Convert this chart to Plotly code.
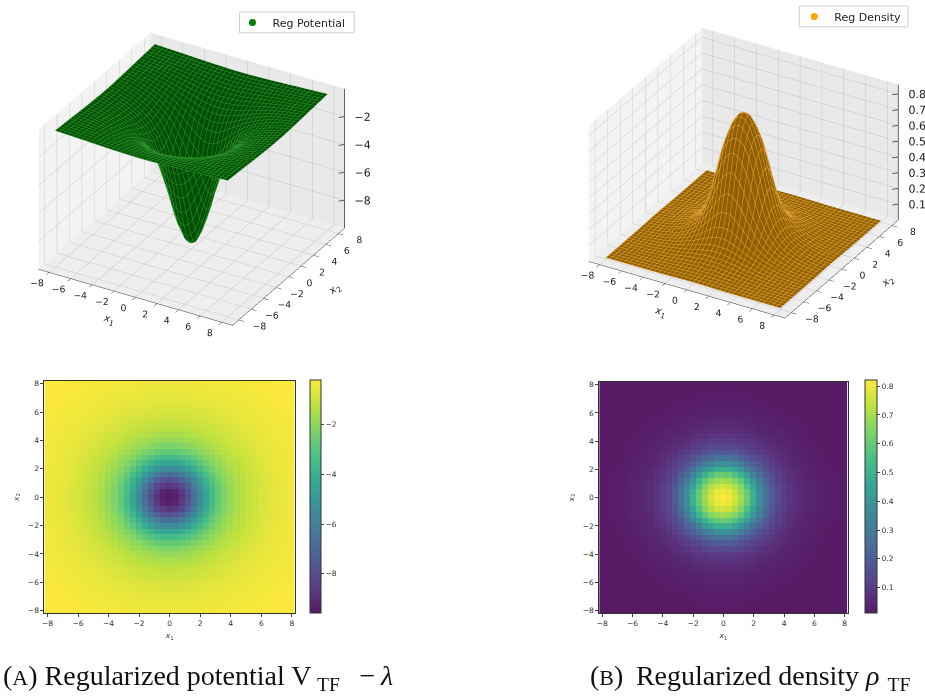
import numpy as np
import plotly.graph_objects as go
from plotly.colors import sequential

tick_values = [-8, -6, -4, -2, 0, 2, 4, 6, 8]
grid_positive = [0.4 * k / 1 for k in range(21)]
legend_potential = "Reg Potential"
legend_density = "Reg Density"
caption_a = "(<span style='font-size:22px'>A</span>) Regularized potential V\u2009<sub>TF</sub>\u00a0\u00a0\u2009−\u2009<i>λ</i>"
caption_b = "(<span style='font-size:22px'>B</span>)\u2009 Regularized density <i>ρ</i>\u2009\u200a<sub>TF</sub>"
z_ticks_potential = [-2, -4, -6, -8]
z_labels_potential = ["−2", "−4", "−6", "−8"]
z_ticks_density = [.1, .2, .3, .4, .5, .6, .7, .8]
z_labels_density = ["0.1", "0.2", "0.3", "0.4", "0.5", "0.6", "0.7", "0.8"]

# one quadrant (the picture is mirror-symmetric about both axes)
potential_quadrant = [
[-9.6,-9.4,-8.8,-7.9,-6.8,-5.6,-4.5,-3.5,-2.8,-2.3,-1.9,-1.6,-1.35,-1.15,-1.0,-.85,-.75,-.65,-.57,-.5,-.45],
[-9.4,-9.2,-8.6,-7.7,-6.7,-5.5,-4.4,-3.5,-2.8,-2.3,-1.9,-1.6,-1.34,-1.15,-1.0,-.85,-.75,-.65,-.57,-.5,-.45],
[-8.8,-8.6,-8.1,-7.3,-6.2,-5.2,-4.2,-3.3,-2.7,-2.2,-1.85,-1.55,-1.3,-1.12,-.98,-.84,-.74,-.64,-.56,-.5,-.45],
[-7.9,-7.7,-7.3,-6.5,-5.6,-4.7,-3.8,-3.1,-2.5,-2.1,-1.75,-1.5,-1.27,-1.1,-.95,-.82,-.72,-.63,-.55,-.49,-.44],
[-6.8,-6.7,-6.2,-5.6,-4.9,-4.1,-3.4,-2.8,-2.3,-1.95,-1.65,-1.42,-1.2,-1.05,-.92,-.8,-.7,-.61,-.54,-.48,-.43],
[-5.6,-5.5,-5.2,-4.7,-4.1,-3.5,-3.0,-2.5,-2.1,-1.8,-1.55,-1.34,-1.15,-1.01,-.88,-.77,-.67,-.59,-.52,-.47,-.42],
[-4.5,-4.4,-4.2,-3.8,-3.4,-3.0,-2.55,-2.2,-1.9,-1.65,-1.43,-1.22,-1.08,-.95,-.83,-.73,-.64,-.57,-.5,-.45,-.41],
[-3.5,-3.5,-3.3,-3.1,-2.8,-2.5,-2.2,-1.95,-1.7,-1.5,-1.3,-1.15,-1.02,-.9,-.79,-.7,-.61,-.54,-.48,-.44,-.4],
[-2.8,-2.8,-2.7,-2.5,-2.3,-2.1,-1.9,-1.7,-1.5,-1.34,-1.2,-1.05,-.94,-.83,-.74,-.65,-.58,-.52,-.47,-.42,-.39],
[-2.3,-2.3,-2.2,-2.1,-1.95,-1.8,-1.65,-1.5,-1.34,-1.2,-1.07,-.97,-.85,-.77,-.68,-.61,-.55,-.49,-.45,-.41,-.37],
[-1.9,-1.9,-1.85,-1.75,-1.65,-1.55,-1.43,-1.3,-1.2,-1.07,-.98,-.87,-.79,-.71,-.63,-.57,-.51,-.46,-.42,-.39,-.36],
[-1.6,-1.6,-1.55,-1.5,-1.42,-1.34,-1.22,-1.15,-1.05,-.97,-.87,-.8,-.72,-.65,-.59,-.53,-.48,-.44,-.4,-.37,-.35],
[-1.35,-1.34,-1.3,-1.27,-1.2,-1.15,-1.08,-1.02,-.94,-.85,-.79,-.72,-.66,-.6,-.54,-.49,-.45,-.42,-.38,-.36,-.33],
[-1.15,-1.15,-1.12,-1.1,-1.05,-1.01,-.95,-.9,-.83,-.77,-.71,-.65,-.6,-.54,-.49,-.46,-.42,-.39,-.36,-.34,-.31],
[-1.0,-1.0,-.98,-.95,-.92,-.88,-.83,-.79,-.74,-.68,-.63,-.59,-.54,-.49,-.46,-.43,-.4,-.37,-.35,-.32,-.3],
[-.85,-.85,-.84,-.82,-.8,-.77,-.73,-.7,-.65,-.61,-.57,-.53,-.49,-.46,-.43,-.4,-.38,-.35,-.33,-.31,-.29],
[-.75,-.75,-.74,-.72,-.7,-.67,-.64,-.61,-.58,-.55,-.51,-.48,-.45,-.42,-.4,-.38,-.35,-.33,-.31,-.29,-.27],
[-.65,-.65,-.64,-.63,-.61,-.59,-.57,-.54,-.52,-.49,-.46,-.44,-.42,-.39,-.37,-.35,-.33,-.31,-.29,-.27,-.26],
[-.57,-.57,-.56,-.55,-.54,-.52,-.5,-.48,-.47,-.45,-.42,-.4,-.38,-.36,-.35,-.33,-.31,-.29,-.28,-.26,-.25],
[-.5,-.5,-.5,-.49,-.48,-.47,-.45,-.44,-.42,-.41,-.39,-.37,-.36,-.34,-.32,-.31,-.29,-.27,-.26,-.25,-.23],
[-.45,-.45,-.45,-.44,-.43,-.42,-.41,-.4,-.39,-.37,-.36,-.35,-.33,-.31,-.3,-.29,-.27,-.26,-.25,-.23,-.22],
]

density_quadrant = [
[.82,.80,.76,.69,.61,.50,.38,.27,.19,.14,.10,.08,.06,.05,.04,.03,.025,.02,.017,.015,.013],
[.80,.79,.75,.68,.60,.49,.37,.27,.19,.14,.10,.08,.06,.05,.04,.03,.025,.02,.017,.015,.013],
[.76,.75,.71,.65,.56,.45,.34,.25,.18,.13,.10,.075,.06,.05,.04,.03,.025,.02,.017,.015,.013],
[.69,.68,.65,.59,.50,.40,.30,.22,.16,.12,.09,.07,.055,.045,.035,.03,.023,.02,.017,.014,.012],
[.61,.60,.56,.50,.42,.33,.25,.19,.14,.105,.085,.065,.05,.04,.033,.027,.022,.018,.016,.014,.012],
[.50,.49,.45,.40,.33,.26,.21,.16,.12,.095,.075,.06,.05,.04,.03,.025,.02,.018,.015,.013,.011],
[.38,.37,.34,.30,.25,.21,.165,.13,.10,.08,.065,.05,.04,.035,.028,.023,.019,.016,.014,.012,.011],
[.27,.27,.25,.22,.19,.16,.13,.105,.085,.07,.055,.045,.037,.03,.025,.02,.017,.015,.013,.011,.01],
[.19,.19,.18,.16,.14,.12,.10,.085,.07,.06,.05,.04,.033,.027,.023,.018,.016,.014,.012,.011,.01],
[.14,.14,.13,.12,.105,.095,.08,.07,.06,.05,.042,.035,.03,.024,.02,.017,.015,.013,.011,.01,.01],
[.10,.10,.10,.09,.085,.075,.065,.055,.05,.042,.036,.03,.025,.021,.018,.016,.014,.012,.011,.01,.01],
[.08,.08,.075,.07,.065,.06,.05,.045,.04,.035,.03,.026,.022,.019,.016,.014,.013,.011,.01,.01,.01],
[.06,.06,.06,.055,.05,.05,.04,.037,.033,.03,.025,.022,.019,.017,.015,.013,.012,.011,.01,.01,.01],
[.05,.05,.05,.045,.04,.04,.035,.03,.027,.024,.021,.019,.017,.015,.013,.012,.011,.01,.01,.01,.01],
[.04,.04,.04,.035,.033,.03,.028,.025,.023,.02,.018,.016,.015,.013,.012,.011,.01,.01,.01,.01,.01],
[.03,.03,.03,.03,.027,.025,.023,.02,.018,.017,.016,.014,.013,.012,.011,.01,.01,.01,.01,.01,.01],
[.025,.025,.025,.023,.022,.02,.019,.017,.016,.015,.014,.013,.012,.011,.01,.01,.01,.01,.01,.01,.01],
[.02,.02,.02,.02,.018,.018,.016,.015,.014,.013,.012,.011,.011,.01,.01,.01,.01,.01,.01,.01,.01],
[.017,.017,.017,.017,.016,.015,.014,.013,.012,.011,.011,.01,.01,.01,.01,.01,.01,.01,.01,.01,.01],
[.015,.015,.015,.014,.014,.013,.012,.011,.011,.01,.01,.01,.01,.01,.01,.01,.01,.01,.01,.01,.01],
[.013,.013,.013,.012,.012,.011,.011,.01,.01,.01,.01,.01,.01,.01,.01,.01,.01,.01,.01,.01,.01],
]


def mirror(q):
    q = np.array(q)
    top = np.concatenate([q[:0:-1], q], axis=0)
    return np.concatenate([top[:, :0:-1], top], axis=1)


axis_coord = np.array([-v for v in grid_positive[:0:-1]] + grid_positive)
V = mirror(potential_quadrant)
D = mirror(density_quadrant)

W, H = 925, 696
GREEN = "#008000"
ORANGE = "#d68c00"
ALPHA = 0.9


def faded(hexcolor):
    rgb = [int(hexcolor[i:i + 2], 16) for i in (1, 3, 5)]
    return "rgb(%d,%d,%d)" % tuple(round(ALPHA * c + (1 - ALPHA) * 255) for c in rgb)


stops = sequential.Viridis
viridis_soft = [[i / (len(stops) - 1), faded(c)] for i, c in enumerate(stops)]


def solid(c):
    return [[0, c], [1, c]]


def surf(z, color, line, scene, ambient, diffuse):
    return go.Surface(
        x=axis_coord, y=axis_coord, z=z, colorscale=solid(color), showscale=False, scene=scene,
        lighting=dict(ambient=ambient, diffuse=diffuse, specular=0.0, roughness=1, fresnel=0),
        lightposition=dict(x=2000, y=-3000, z=10000),
        contours=dict(
            x=dict(show=True, color=line, width=1, start=-8, end=8, size=0.4),
            y=dict(show=True, color=line, width=1, start=-8, end=8, size=0.4),
        ),
        hoverinfo="skip",
    )


def z_axis_marks(ticks, labels, scene, span):
    """Matplotlib keeps the z axis on the right-hand corner; Plotly picks another edge."""
    c = 9.0
    out = [go.Scatter3d(x=[c, c], y=[c, c], z=span, mode="lines", line=dict(color="#333", width=1.5),
                        scene=scene, showlegend=False, hoverinfo="skip")]
    for t in ticks:
        out.append(go.Scatter3d(x=[c - 0.35, c], y=[c - 0.35, c], z=[t, t], mode="lines", line=dict(color="#333", width=1.5),
                                scene=scene, showlegend=False, hoverinfo="skip"))
    out.append(go.Scatter3d(x=[c] * len(ticks), y=[c] * len(ticks), z=ticks, text=["\u00a0\u00a0\u00a0" + s for s in labels],
                            mode="text", textposition="middle right", textfont=dict(size=11, color="#222"),
                            scene=scene, showlegend=False, hoverinfo="skip"))
    return out


fig = go.Figure()
fig.add_trace(surf(V, GREEN, "#2f962f", "scene", 0.62, 0.42))
fig.add_trace(surf(D, ORANGE, "#e3a63c", "scene2", 0.68, 0.34))
fig.add_traces(z_axis_marks(z_ticks_potential, z_labels_potential, "scene", [-10, 0]))
fig.add_traces(z_axis_marks(z_ticks_density, z_labels_density, "scene2", [0, 0.86]))
fig.add_trace(go.Scatter3d(x=[None], y=[None], z=[None], mode="markers", name=legend_potential,
                           marker=dict(color="green", size=7), scene="scene", showlegend=True, legend="legend"))
fig.add_trace(go.Scatter3d(x=[None], y=[None], z=[None], mode="markers", name=legend_density,
                           marker=dict(color="orange", size=7), scene="scene2", showlegend=True, legend="legend2"))

fig.add_trace(go.Heatmap(x=axis_coord, y=axis_coord, z=V, colorscale=viridis_soft, xaxis="x", yaxis="y",
                         zmin=-9.6, zmax=-0.22, hoverinfo="skip",
                         colorbar=dict(x=309/W, xanchor="left", y=1-615/H, yanchor="bottom", len=234/H, lenmode="fraction",
                                       thickness=11, xpad=0, ypad=0, tickvals=[-2, -4, -6, -8], ticks="outside", ticklen=3,
                                       tickfont=dict(size=7.5, color="#333"), outlinecolor="#333", outlinewidth=1)))
fig.add_trace(go.Heatmap(x=axis_coord, y=axis_coord, z=D, colorscale=viridis_soft, xaxis="x2", yaxis="y2",
                         zmin=0.01, zmax=0.82, hoverinfo="skip",
                         colorbar=dict(x=865/W, xanchor="left", y=1-615/H, yanchor="bottom", len=234/H, lenmode="fraction",
                                       thickness=12, xpad=0, ypad=0, tickvals=[.1, .2, .3, .4, .5, .6, .7, .8], ticks="outside", ticklen=3,
                                       tickfont=dict(size=7.5, color="#333"), outlinecolor="#333", outlinewidth=1)))


def ax3(title, rng, vals, labels=True):
    return dict(title=dict(text=title, font=dict(size=10, color="#222")), range=rng, tickvals=vals,
                tickfont=dict(size=10.5, color="#222"), showbackground=True, gridcolor="#c4c4c4", gridwidth=1,
                showline=labels, linecolor="#333", ticks="outside" if labels else "", ticklen=6, tickcolor="#333", zeroline=False,
                showspikes=False, autorange=False, tickangle=0, showticklabels=labels)


def scene(dom_x, dom_y, zr, zv, s, sz):
    x = ax3("<i>x</i><sub>1</sub>", [-9, 9], tick_values)
    y = ax3("<i>x</i><sub>2</sub>", [-9, 9], tick_values)
    z = ax3("", zr, zv, labels=False)
    x["backgroundcolor"] = "#f3f3f3"
    y["backgroundcolor"] = "#e9e9e9"
    z["backgroundcolor"] = "#eeeeee"
    return dict(domain=dict(x=dom_x, y=dom_y), xaxis=x, yaxis=y, zaxis=z,
                aspectmode="manual", aspectratio=dict(x=s, y=s, z=sz),
                camera=dict(eye=dict(x=0.433*1.6, y=-0.75*1.6, z=0.5*1.6), up=dict(x=0, y=0, z=1),
                            center=dict(x=0, y=0, z=0),
                            projection=dict(type="orthographic")))


common_x = dict(range=[-8.2, 8.2], tickvals=tick_values, ticks="outside", ticklen=3,
                tickfont=dict(size=7.5, color="#333"), mirror=True, showline=True, linecolor="#333", showgrid=False, zeroline=False,
                title=dict(text="<i>x</i><sub>1</sub>", font=dict(size=7.5, color="#333"), standoff=5))
common_y = dict(common_x, title=dict(text="<i>x</i><sub>2</sub>", font=dict(size=7.5, color="#333"), standoff=7))


def legend_style(x, y):
    return dict(x=x/W, y=1-y/H, xanchor="left", yanchor="middle", bgcolor="rgba(0,0,0,0)", borderwidth=0,
                font=dict(size=11, color="#222"), itemsizing="trace", itemwidth=30)


def legend_box(x0, y0, x1, y1):
    return dict(type="rect", xref="paper", yref="paper", x0=x0/W, x1=x1/W, y0=1-y0/H, y1=1-y1/H,
                fillcolor="white", line=dict(color="#d0d0d0", width=1), layer="above")


fig.update_layout(
    width=W, height=H, autosize=False, margin=dict(l=0, r=0, t=0, b=0), paper_bgcolor="white", plot_bgcolor="white",
    font=dict(family="DejaVu Sans", color="#222"),
    scene=scene([0.0, 380/W], [1-356/H, 1.0], [-10, 0], z_ticks_potential, 1.267, 0.91),
    scene2=scene([561/W, 1.0], [1-344/H, 1.0], [0, 0.86], z_ticks_density, 1.325, 0.915),
    legend=legend_style(231, 20.5),
    legend2=legend_style(794, 14.5),
    shapes=[legend_box(238, 10, 353, 31), legend_box(799, 4, 908, 25)],
    xaxis=dict(common_x, domain=[42.5/W, 293.5/W], anchor="y"),
    yaxis=dict(common_y, domain=[1-615/H, 1-381/H], anchor="x"),
    xaxis2=dict(common_x, domain=[598.5/W, 847.5/W], anchor="y2"),
    yaxis2=dict(common_y, domain=[1-615/H, 1-382/H], anchor="x2"),
    annotations=[
        dict(text=caption_a, x=-1/W, y=1-699/H, xref="paper", yref="paper", xanchor="left", yanchor="bottom", showarrow=False,
             font=dict(family="Liberation Serif", size=28, color="#111")),
        dict(text=caption_b, x=587/W, y=1-699/H, xref="paper", yref="paper", xanchor="left", yanchor="bottom", showarrow=False,
             font=dict(family="Liberation Serif", size=28, color="#111")),
    ],
)

fig.write_html("out.html", post_script="document.body.style.margin='0';", config=dict(displayModeBar=False))
